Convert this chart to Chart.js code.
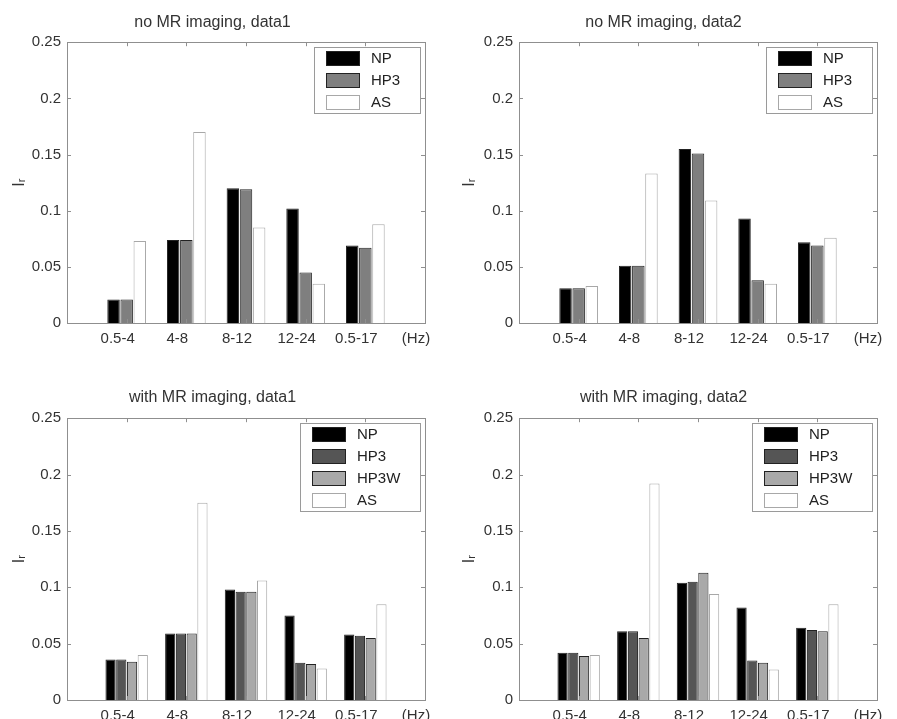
<!DOCTYPE html>
<html>
<head>
<meta charset="utf-8">
<title>I_r por banda</title>
<script src="https://cdn.jsdelivr.net/npm/chart.js@4.4.1/dist/chart.umd.min.js"></script>
<style>
    html, body { margin: 0; padding: 0; background: #fff; width: 897px; height: 719px; overflow: hidden; }
    .panel { position: absolute; }
</style>
</head>
<body>
<div class="panel" style="left:0px;top:0px;width:454px;height:355px"><canvas id="chart1"></canvas></div>
<div class="panel" style="left:450px;top:0px;width:462px;height:355px"><canvas id="chart2"></canvas></div>
<div class="panel" style="left:0px;top:360px;width:454px;height:380px"><canvas id="chart3"></canvas></div>
<div class="panel" style="left:450px;top:360px;width:462px;height:380px"><canvas id="chart4"></canvas></div>
<script>
// categorias y ticks
var bandas = ["0.5-4", "4-8", "8-12", "12-24", "0.5-17"];
var etiquetasX = [""].concat(bandas).concat(["(Hz)"]);
var ticksY = [0, 0.05, 0.1, 0.15, 0.2, 0.25];

// no MR imaging, data1
var np_noMR_d1 = [0.021, 0.074, 0.120, 0.102, 0.069];
var hp3_noMR_d1 = [0.021, 0.074, 0.119, 0.045, 0.067];
var as_noMR_d1 = [0.073, 0.170, 0.085, 0.035, 0.088];

// no MR imaging, data2
var np_noMR_d2 = [0.031, 0.051, 0.155, 0.093, 0.072];
var hp3_noMR_d2 = [0.031, 0.051, 0.151, 0.038, 0.069];
var as_noMR_d2 = [0.033, 0.133, 0.109, 0.035, 0.076];

// with MR imaging, data1
var np_MR_d1 = [0.036, 0.059, 0.098, 0.075, 0.058];
var hp3_MR_d1 = [0.036, 0.059, 0.096, 0.033, 0.057];
var hp3w_MR_d1 = [0.034, 0.059, 0.096, 0.032, 0.055];
var as_MR_d1 = [0.040, 0.175, 0.106, 0.028, 0.085];

// with MR imaging, data2
var np_MR_d2 = [0.042, 0.061, 0.104, 0.082, 0.064];
var hp3_MR_d2 = [0.042, 0.061, 0.105, 0.035, 0.062];
var hp3w_MR_d2 = [0.039, 0.055, 0.113, 0.033, 0.061];
var as_MR_d2 = [0.040, 0.192, 0.094, 0.027, 0.085];

var FUENTE = "'Liberation Sans', Arial, sans-serif";

// marco tipo matlab con ticks hacia adentro
var marcoPlugin = {
    id: "marco",
    afterDatasetsDraw: function (chart) {
        var ctx = chart.ctx;
        var a = chart.chartArea;
        var sx = chart.scales.x;
        var sy = chart.scales.y;
        ctx.save();
        ctx.strokeStyle = "#8f8f8f";
        ctx.lineWidth = 1;
        ctx.strokeRect(Math.round(a.left) + 0.5, Math.round(a.top) + 0.5,
            Math.round(a.right - a.left), Math.round(a.bottom - a.top));
        ctx.beginPath();
        ticksY.forEach(function (v) {
            var py = Math.round(sy.getPixelForValue(v)) + 0.5;
            ctx.moveTo(a.left, py); ctx.lineTo(a.left + 4, py);
            ctx.moveTo(a.right, py); ctx.lineTo(a.right - 4, py);
        });
        for (var i = 1; i <= bandas.length; i++) {
            var px = Math.round(sx.getPixelForValue(i)) + 0.5;
            ctx.moveTo(px, a.bottom); ctx.lineTo(px, a.bottom - 4);
            ctx.moveTo(px, a.top); ctx.lineTo(px, a.top + 4);
        }
        ctx.stroke();
        ctx.restore();
    }
};

// leyenda dentro del area, arriba a la derecha
var leyendaPlugin = {
    id: "leyenda",
    afterDraw: function (chart) {
        var ctx = chart.ctx;
        var a = chart.chartArea;
        var ds = chart.data.datasets;
        ctx.save();
        ctx.font = "15px " + FUENTE;
        var maxW = 0;
        ds.forEach(function (d) {
            maxW = Math.max(maxW, ctx.measureText(d.label).width);
        });
        var w = Math.round(12 + 34 + 11 + maxW + 20);
        var h = ds.length * 22;
        var right = Math.round(a.right) - 5;
        var top = Math.round(a.top) + 5;
        var left = right - w;
        ctx.fillStyle = "#fff";
        ctx.fillRect(left, top, w, h);
        ctx.strokeStyle = "#9a9a9a";
        ctx.lineWidth = 1;
        ctx.strokeRect(left + 0.5, top + 0.5, w, h);
        ds.forEach(function (d, i) {
            var cy = top + 11 + i * 22;
            ctx.fillStyle = d.backgroundColor;
            ctx.fillRect(left + 12, cy - 7, 34, 15);
            ctx.strokeStyle = d.borderColor;
            ctx.strokeRect(left + 12.5, cy - 6.5, 33, 14);
            ctx.fillStyle = "#222";
            ctx.textBaseline = "middle";
            ctx.textAlign = "left";
            ctx.fillText(d.label, left + 57, cy + 1);
        });
        ctx.restore();
    }
};

function rellenar(valores) {
    return [null].concat(valores).concat([null]);
}

function crearGrafico(idCanvas, titulo, series, opt) {
    var datasets = series.map(function (s) {
        return {
            label: s.nombre,
            data: rellenar(s.valores),
            backgroundColor: s.color,
            borderColor: s.borde,
            borderWidth: 1,
            categoryPercentage: opt.catPct,
            barPercentage: 0.95,
        };
    });

    var ctx = document.getElementById(idCanvas).getContext("2d");
    return new Chart(ctx, {
        type: "bar",
        data: {
            labels: etiquetasX,
            datasets: datasets,
        },
        plugins: [marcoPlugin, leyendaPlugin],
        options: {
            responsive: true,
            maintainAspectRatio: false,
            animation: false,
            devicePixelRatio: 1,
            layout: { padding: { left: 0, right: opt.padRight, top: 0, bottom: 0 } },
            plugins: {
                legend: { display: false },
                tooltip: { enabled: false },
                title: {
                    display: true,
                    text: titulo,
                    color: "#333",
                    font: { family: FUENTE, size: 16, weight: "normal" },
                    padding: { top: opt.tituloTop, bottom: opt.tituloBottom },
                },
            },
            scales: {
                x: {
                    type: "category",
                    offset: false,
                    grid: { display: false, drawTicks: false },
                    border: { display: false },
                    ticks: {
                        color: "#333",
                        font: { family: FUENTE, size: 15 },
                        padding: 7,
                        labelOffset: -9,
                        autoSkip: false,
                        maxRotation: 0,
                    },
                    afterFit: function (scale) {
                        scale.height = opt.altoX;
                    },
                },
                y: {
                    min: 0,
                    max: 0.25,
                    grid: { display: false, drawTicks: false },
                    border: { display: false },
                    ticks: {
                        color: "#333",
                        font: { family: FUENTE, size: 15 },
                        padding: 6,
                        // formato matlab: 0.1, 0.2 (sin cero final)
                        callback: function (value) {
                            return String(parseFloat(value.toFixed(2)));
                        },
                    },
                    afterBuildTicks: function (axis) {
                        axis.ticks = ticksY.map(function (v) { return { value: v }; });
                    },
                    title: {
                        display: true,
                        text: "I\u1d63",
                        color: "#333",
                        font: { family: FUENTE, size: 16 },
                        padding: { top: 10, bottom: 0 },
                    },
                    afterFit: function (scale) {
                        scale.width = opt.anchoY;
                    },
                },
            },
        },
    });
}

var NEGRO = "#000000";
var BORDE = "#222222";
var BORDE_AS = "#a8a8a8";

crearGrafico("chart1", "no MR imaging, data1", [
    { nombre: "NP", valores: np_noMR_d1, color: NEGRO, borde: BORDE },
    { nombre: "HP3", valores: hp3_noMR_d1, color: "#7f7f7f", borde: BORDE },
    { nombre: "AS", valores: as_noMR_d1, color: "#ffffff", borde: BORDE_AS },
], { catPct: 0.66, padRight: 29, anchoY: 67, altoX: 32, tituloTop: 13, tituloBottom: 10 });

crearGrafico("chart2", "no MR imaging, data2", [
    { nombre: "NP", valores: np_noMR_d2, color: NEGRO, borde: BORDE },
    { nombre: "HP3", valores: hp3_noMR_d2, color: "#7f7f7f", borde: BORDE },
    { nombre: "AS", valores: as_noMR_d2, color: "#ffffff", borde: BORDE_AS },
], { catPct: 0.66, padRight: 35, anchoY: 69, altoX: 32, tituloTop: 13, tituloBottom: 10 });

crearGrafico("chart3", "with MR imaging, data1", [
    { nombre: "NP", valores: np_MR_d1, color: NEGRO, borde: BORDE },
    { nombre: "HP3", valores: hp3_MR_d1, color: "#555555", borde: BORDE },
    { nombre: "HP3W", valores: hp3w_MR_d1, color: "#a9a9a9", borde: BORDE },
    { nombre: "AS", valores: as_MR_d1, color: "#ffffff", borde: BORDE_AS },
], { catPct: 0.72, padRight: 29, anchoY: 67, altoX: 40, tituloTop: 28, tituloBottom: 11 });

crearGrafico("chart4", "with MR imaging, data2", [
    { nombre: "NP", valores: np_MR_d2, color: NEGRO, borde: BORDE },
    { nombre: "HP3", valores: hp3_MR_d2, color: "#555555", borde: BORDE },
    { nombre: "HP3W", valores: hp3w_MR_d2, color: "#a9a9a9", borde: BORDE },
    { nombre: "AS", valores: as_MR_d2, color: "#ffffff", borde: BORDE_AS },
], { catPct: 0.72, padRight: 35, anchoY: 69, altoX: 40, tituloTop: 28, tituloBottom: 11 });
</script>
</body>
</html>
